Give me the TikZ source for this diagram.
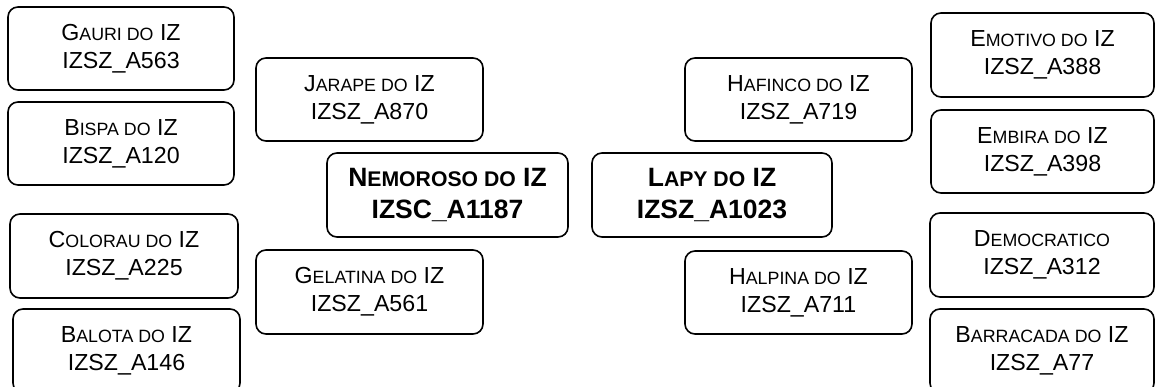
\documentclass[tikz,border=0pt]{standalone}
\usepackage{fontspec}
\setmainfont{Liberation Sans}
\newcommand\lsc[1]{{\fontsize{17.8}{28}\selectfont #1}}
\newcommand\bsc[1]{{\fontsize{21.2}{32}\selectfont #1}}
\tikzset{
  pbox/.style={draw, rounded corners=10pt, line width=1.6pt, align=center, inner sep=0pt,
    font=\fontsize{23.2}{28}\selectfont},
  mbox/.style={pbox, font=\fontsize{26.5}{32}\selectfont\bfseries}
}
\begin{document}
\begin{tikzpicture}[x=1pt,y=1pt]
\useasboundingbox (0,0) rectangle (1156,-387);
\fill[white] (0,0) rectangle (1156,-387);
% left grandparents
\node[pbox, minimum width=226, minimum height=83] (gauri) at (121,-48.5) {G\lsc{AURI DO} IZ\\IZSZ\_A563};
\node[pbox, minimum width=226, minimum height=83] (bispa) at (121,-143.5) {B\lsc{ISPA DO} IZ\\IZSZ\_A120};
\node[pbox, minimum width=228, minimum height=84] (colorau) at (124,-256) {C\lsc{OLORAU DO} IZ\\IZSZ\_A225};
\node[pbox, minimum width=227, minimum height=84] (balota) at (126.5,-351) {B\lsc{ALOTA DO} IZ\\IZSZ\_A146};
% left parents
\node[pbox, minimum width=227, minimum height=83] (jarape) at (369.5,-99.5) {J\lsc{ARAPE DO} IZ\\IZSZ\_A870};
\node[pbox, minimum width=227, minimum height=84] (gelatina) at (369.5,-292) {G\lsc{ELATINA DO} IZ\\IZSZ\_A561};
% main
\node[mbox, minimum width=241, minimum height=84] (nemoroso) at (447.5,-195) {N\bsc{EMOROSO DO} IZ\\IZSC\_A1187};
\node[mbox, minimum width=240, minimum height=84] (lapy) at (712,-195) {L\bsc{APY DO} IZ\\IZSZ\_A1023};
% right parents
\node[pbox, minimum width=227, minimum height=83] (hafinco) at (798.5,-99.5) {H\lsc{AFINCO DO} IZ\\IZSZ\_A719};
\node[pbox, minimum width=227, minimum height=83] (halpina) at (798.5,-292.5) {H\lsc{ALPINA DO} IZ\\IZSZ\_A711};
% right grandparents
\node[pbox, minimum width=223, minimum height=84] (emotivo) at (1042.5,-55) {E\lsc{MOTIVO DO} IZ\\IZSZ\_A388};
\node[pbox, minimum width=223, minimum height=83] (embira) at (1042.5,-151.5) {E\lsc{MBIRA DO} IZ\\IZSZ\_A398};
\node[pbox, minimum width=224, minimum height=84] (democratico) at (1042,-255) {D\lsc{EMOCRATICO}\\IZSZ\_A312};
\node[pbox, minimum width=224, minimum height=84] (barracada) at (1042,-351) {B\lsc{ARRACADA DO} IZ\\IZSZ\_A77};
\end{tikzpicture}
\end{document}
